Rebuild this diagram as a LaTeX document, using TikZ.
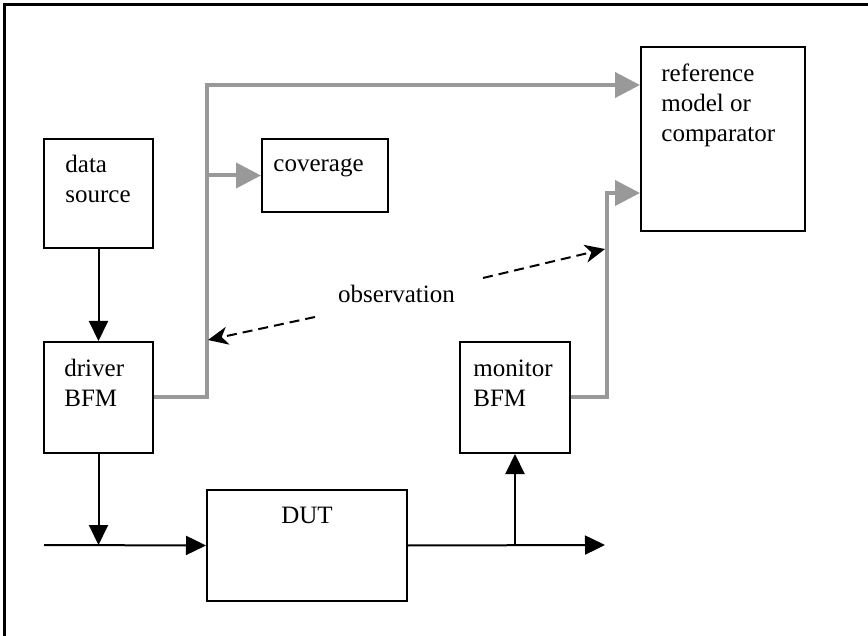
\documentclass[tikz,border=0pt]{standalone}
\usepackage{fontspec}
\setmainfont{Liberation Serif}
\usetikzlibrary{arrows.meta}
\definecolor{wiregray}{RGB}{153,153,153}

\begin{document}
\begin{tikzpicture}[x=0.5pt,y=-0.5pt,
  box/.style={draw,line width=1pt,inner sep=0pt,minimum width=54.5pt,minimum height=55.5pt},
  txt/.style={inner sep=0pt,anchor=base west,align=left,font=\fontsize{12.5}{15}\selectfont},
  sig/.style={line width=1pt,-{Triangle[length=10pt,width=9.5pt]}},
  obs/.style={line width=1pt,dashed,dash pattern=on 5pt off 3pt,-{Stealth[length=10pt,width=9pt,inset=3pt]}},
  tb/.style={line width=2pt,draw=wiregray,-{Triangle[length=12.5pt,width=12.5pt]}}]

\useasboundingbox (0,0) rectangle (868,636);
%Rahmen
\draw[line width=1.5pt] (4,636) -- (4,5) -- (868,5);

%Bloecke
\node[box,minimum height=54.5pt] (src) at (98.5,193.5) {};
\node[box] (drv) at (98.5,397.5) {};
\node[box,minimum width=63pt,minimum height=36.5pt] (cov) at (325,175.5) {};
\node[box,minimum width=82pt,minimum height=92pt] (ref) at (723,139) {};
\node[box,minimum width=55pt] (mon) at (515,397.5) {};
\node[box,minimum width=100pt] (dut) at (307,545.5) {};

%Texte (Basislinie der letzten Zeile)
\node[txt] (srctxt) at (65,203) {data\\source};
\node[txt] (drvtxt) at (64,407) {driver\\BFM};
\node[txt] (covtxt) at (273,172) {coverage};
\node[txt] (reftxt) at (661,142) {reference\\model or\\comparator};
\node[txt] (montxt) at (473,407) {monitor\\BFM};
\node[txt,anchor=base] (duttxt) at (307,523) {DUT};
\node[txt,anchor=base] (obstxt) at (396.5,303) {observation};

%Signale
\coordinate (in) at (44,545);
\coordinate (out) at (605,545);
\draw[sig] (src) -- (drv);
\draw[sig] (drv.south) -- (drv.south |- in);
\draw[sig] (in) -- (dut.west);
\draw[sig] (dut.east) -- (out);
\draw[sig] (mon.south |- out) -- (mon.south);

%Beobachtung
\coordinate (tap) at (207,85);
\coordinate (mtap) at (607,193);
\draw[tb] (drv.east) -| (tap) -- (tap -| ref.west);
\draw[tb] (tap |- cov.west) -- (cov.west);
\draw[tb] (mon.east) -| (mtap) -- (mtap -| ref.west);

\coordinate (obsa) at (315,317);
\coordinate (obsb) at (208,340);
\coordinate (obsc) at (483,278);
\coordinate (obsd) at (605,249);
\draw[obs] (obsa) -- (obsb);
\draw[obs] (obsc) -- (obsd);
\end{tikzpicture}
\end{document}
